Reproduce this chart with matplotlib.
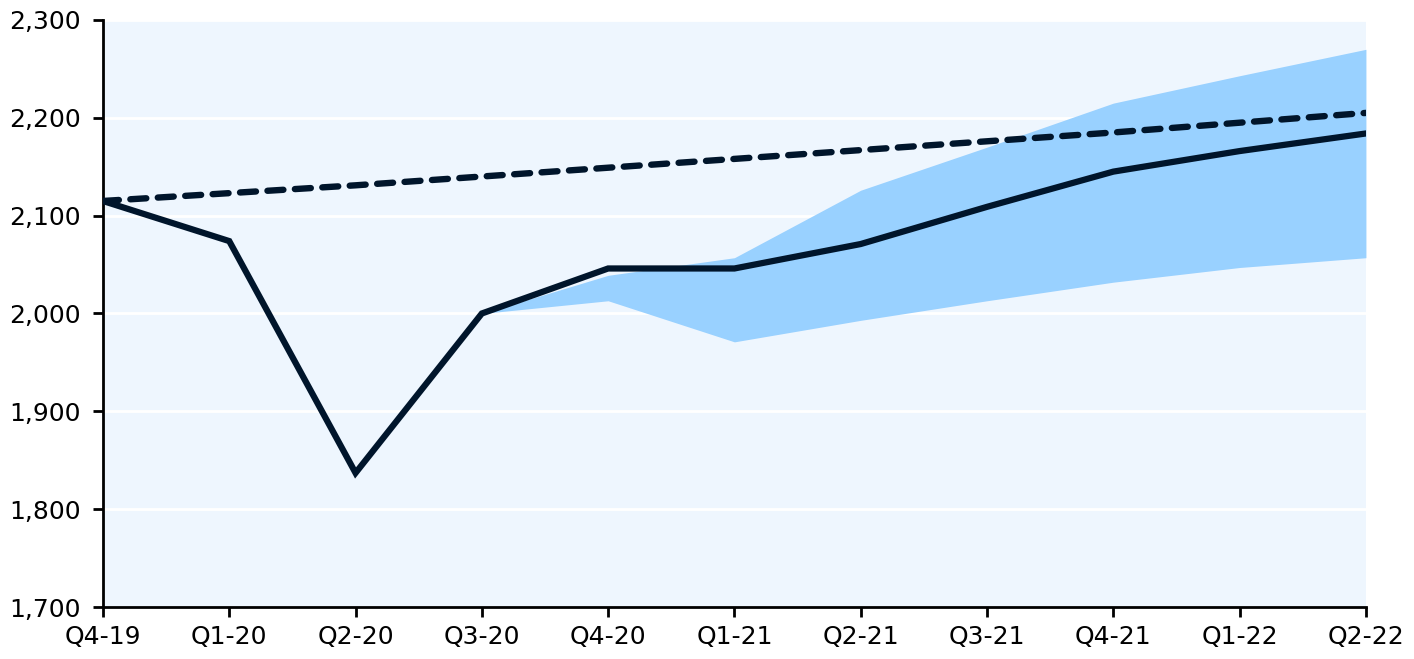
import matplotlib.pyplot as plt
from matplotlib.ticker import FuncFormatter

# Quarterly output path vs. pre-crisis trend, with forecast range
quarters = ['Q4-19', 'Q1-20', 'Q2-20', 'Q3-20', 'Q4-20', 'Q1-21',
            'Q2-21', 'Q3-21', 'Q4-21', 'Q1-22', 'Q2-22']
actual = [2115, 2074, 1837, 2000, 2046, 2046, 2071, 2109, 2145, 2166, 2184]
trend = [2115, 2123, 2131, 2140, 2149, 2158, 2167, 2176, 2185, 2195, 2205]

# forecast band starts at Q3-20
band_start = 3
band_upper = [2000, 2039, 2057, 2126, 2170, 2215, 2243, 2270]
band_lower = [2000, 2013, 1971, 1993, 2013, 2032, 2047, 2057]

navy = '#00152B'
plt.rcParams['font.family'] = 'DejaVu Sans'

fig = plt.figure(figsize=(14.14, 6.59), dpi=100)
ax = fig.add_axes([0.0728, 0.0789, 0.8932, 0.8908])
ax.set_facecolor('#EEF6FE')

x = list(range(len(quarters)))
xb = x[band_start:]
ax.fill_between(xb, band_lower, band_upper, color='#99D1FF', lw=0, zorder=2)

ax.plot(x, trend, color=navy, lw=4.6, ls=(0, (2.5, 1.8)),
        dash_capstyle='round', zorder=4)
ax.plot(x, actual, color=navy, lw=4.5, solid_joinstyle='miter', zorder=5)

ax.set_xlim(0, len(quarters) - 1)
ax.set_ylim(1700, 2300)
ax.set_yticks(range(1700, 2301, 100))
ax.yaxis.set_major_formatter(FuncFormatter(lambda v, p: f'{int(v):,}'))
ax.set_xticks(x)
ax.set_xticklabels(quarters)

ax.grid(axis='y', color='white', lw=2, zorder=1)
ax.set_axisbelow(True)

for s in ['top', 'right']:
    ax.spines[s].set_visible(False)
for s in ['left', 'bottom']:
    ax.spines[s].set_linewidth(2)
    ax.spines[s].set_color('black')
ax.tick_params(direction='out', length=7, width=2, labelsize=18)
ax.tick_params(axis='y', pad=9)
ax.tick_params(axis='x', pad=6)

fig.savefig('out.png', dpi=100)
